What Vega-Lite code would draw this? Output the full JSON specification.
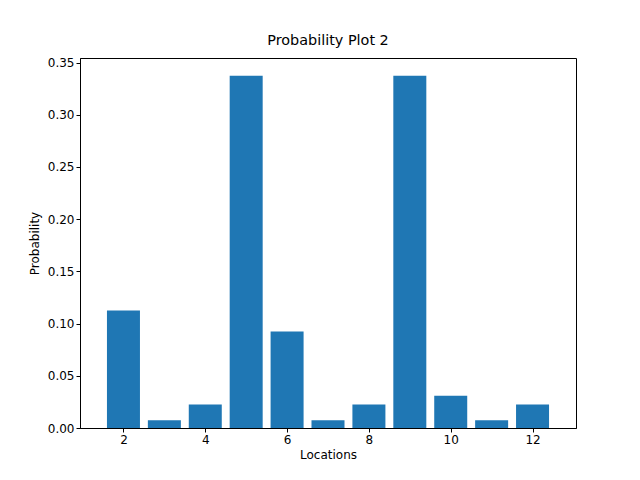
{
  "$schema": "https://vega.github.io/schema/vega-lite/v6.json",
  "autosize": {"type": "none"},
  "padding": {"left": 80, "top": 58, "right": 64, "bottom": 52},
  "width": 496,
  "height": 370,
  "title": {"text": "Probability Plot 2", "font": "DejaVu Sans", "fontSize": 14.4, "fontWeight": "normal", "offset": 8},
  "config": {
    "view": {"stroke": "black", "strokeWidth": 1},
    "axis": {"grid": false, "domainColor": "black", "tickColor": "black", "labelFont": "DejaVu Sans", "titleFont": "DejaVu Sans", "labelFontSize": 12, "titleFontSize": 12, "titleFontWeight": "normal", "labelColor": "black", "titleColor": "black", "tickSize": 4}
  },
  "data": {"values": [
    {"location": 2, "p": 0.1125},
    {"location": 3, "p": 0.0075},
    {"location": 4, "p": 0.0225},
    {"location": 5, "p": 0.3375},
    {"location": 6, "p": 0.0925},
    {"location": 7, "p": 0.0075},
    {"location": 8, "p": 0.0225},
    {"location": 9, "p": 0.3375},
    {"location": 10, "p": 0.031},
    {"location": 11, "p": 0.0075},
    {"location": 12, "p": 0.0225}
  ]},
  "mark": {"type": "bar", "color": "#1f77b4", "size": 33},
  "encoding": {
    "x": {"field": "location", "type": "quantitative", "title": "Locations",
      "scale": {"domain": [1.06, 12.94], "nice": false, "zero": false},
      "axis": {"values": [2, 4, 6, 8, 10, 12], "titlePadding": 4}},
    "y": {"field": "p", "type": "quantitative", "title": "Probability",
      "scale": {"domain": [0, 0.3544], "nice": false},
      "axis": {"values": [0, 0.05, 0.1, 0.15, 0.2, 0.25, 0.3, 0.35], "format": ".2f", "titlePadding": 6}}
  }
}
